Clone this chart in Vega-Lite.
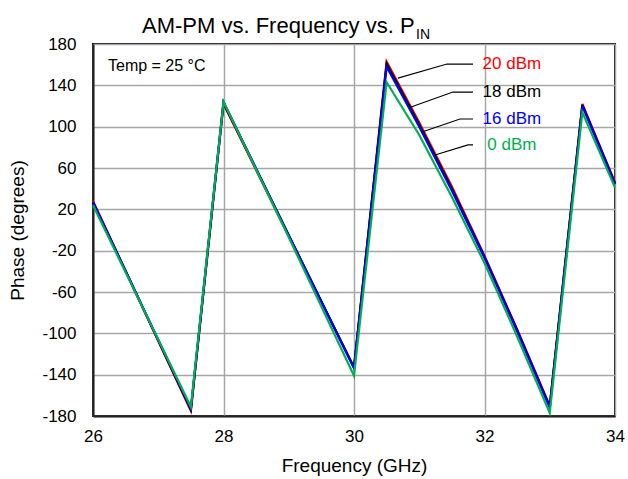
{
  "$schema": "https://vega.github.io/schema/vega-lite/v6.json",
  "width": 522,
  "height": 372,
  "autosize": "none",
  "padding": {"left": 93, "top": 44, "right": 13, "bottom": 63},
  "background": "white",
  "config": {
    "font": "Liberation Sans",
    "view": {"stroke": "#111111", "strokeWidth": 2},
    "axis": {
      "labelFont": "Liberation Sans",
      "titleFont": "Liberation Sans",
      "labelColor": "black",
      "titleColor": "black",
      "titleFontWeight": "normal",
      "gridColor": "#a6a6a6",
      "gridWidth": 1.5,
      "gridOpacity": 1,
      "domainColor": "#222222",
      "domainWidth": 2,
      "ticks": false,
      "labelFlush": false,
      "labelOverlap": false
    }
  },
  "datasets": {
    "curves": [
      {"series": "20 dBm", "f": 26, "v": 28}, {"series": "20 dBm", "f": 27.5, "v": -175}, {"series": "20 dBm", "f": 28, "v": 122}, {"series": "20 dBm", "f": 29, "v": -6}, {"series": "20 dBm", "f": 30, "v": -133}, {"series": "20 dBm", "f": 30.5, "v": 163}, {"series": "20 dBm", "f": 31, "v": 104}, {"series": "20 dBm", "f": 31.5, "v": 42}, {"series": "20 dBm", "f": 32, "v": -25}, {"series": "20 dBm", "f": 32.5, "v": -96}, {"series": "20 dBm", "f": 33, "v": -170}, {"series": "20 dBm", "f": 33.5, "v": 122}, {"series": "20 dBm", "f": 34, "v": 46},
      {"series": "18 dBm", "f": 26, "v": 27}, {"series": "18 dBm", "f": 27.5, "v": -174}, {"series": "18 dBm", "f": 28, "v": 123}, {"series": "18 dBm", "f": 29, "v": -5}, {"series": "18 dBm", "f": 30, "v": -133}, {"series": "18 dBm", "f": 30.5, "v": 161}, {"series": "18 dBm", "f": 31, "v": 102}, {"series": "18 dBm", "f": 31.5, "v": 40}, {"series": "18 dBm", "f": 32, "v": -26}, {"series": "18 dBm", "f": 32.5, "v": -97}, {"series": "18 dBm", "f": 33, "v": -171}, {"series": "18 dBm", "f": 33.5, "v": 121}, {"series": "18 dBm", "f": 34, "v": 45},
      {"series": "16 dBm", "f": 26, "v": 27}, {"series": "16 dBm", "f": 27.5, "v": -173}, {"series": "16 dBm", "f": 28, "v": 124}, {"series": "16 dBm", "f": 29, "v": -5}, {"series": "16 dBm", "f": 30, "v": -134}, {"series": "16 dBm", "f": 30.5, "v": 158}, {"series": "16 dBm", "f": 31, "v": 100}, {"series": "16 dBm", "f": 31.5, "v": 38}, {"series": "16 dBm", "f": 32, "v": -27}, {"series": "16 dBm", "f": 32.5, "v": -98}, {"series": "16 dBm", "f": 33, "v": -172}, {"series": "16 dBm", "f": 33.5, "v": 120}, {"series": "16 dBm", "f": 34, "v": 44},
      {"series": "0 dBm", "f": 26, "v": 24}, {"series": "0 dBm", "f": 27.5, "v": -171}, {"series": "0 dBm", "f": 28, "v": 124}, {"series": "0 dBm", "f": 29, "v": -7}, {"series": "0 dBm", "f": 30, "v": -141}, {"series": "0 dBm", "f": 30.5, "v": 143}, {"series": "0 dBm", "f": 31, "v": 92}, {"series": "0 dBm", "f": 31.5, "v": 32}, {"series": "0 dBm", "f": 32, "v": -32}, {"series": "0 dBm", "f": 32.5, "v": -103}, {"series": "0 dBm", "f": 33, "v": -177}, {"series": "0 dBm", "f": 33.5, "v": 114}, {"series": "0 dBm", "f": 34, "v": 41}
    ],
    "leaders": [
      {"id": "20 dBm", "k": 1, "f": 30.674, "v": 147}, {"id": "20 dBm", "k": 2, "f": 31.425, "v": 160.6}, {"id": "20 dBm", "k": 3, "f": 31.824, "v": 160.6},
      {"id": "18 dBm", "k": 1, "f": 30.874, "v": 119}, {"id": "18 dBm", "k": 2, "f": 31.517, "v": 133.5}, {"id": "18 dBm", "k": 3, "f": 31.824, "v": 133.5},
      {"id": "16 dBm", "k": 1, "f": 31.042, "v": 94.8}, {"id": "16 dBm", "k": 2, "f": 31.625, "v": 107.4}, {"id": "16 dBm", "k": 3, "f": 31.824, "v": 107.4},
      {"id": "0 dBm", "k": 1, "f": 31.241, "v": 72.6}, {"id": "0 dBm", "k": 2, "f": 31.747, "v": 82.3}, {"id": "0 dBm", "k": 3, "f": 31.824, "v": 82.3}
    ],
    "labels": [
      {"series": "20 dBm", "f": 32.42, "v": 160.6},
      {"series": "18 dBm", "f": 32.42, "v": 133.5},
      {"series": "16 dBm", "f": 32.42, "v": 107.4},
      {"series": "0 dBm", "f": 32.42, "v": 82.3}
    ],
    "notes": [
      {"text": "Temp = 25 °C", "f": 26.23, "v": 158.7}
    ],
    "titles": [
      {"text": "AM-PM vs. Frequency vs. P", "f": 26.751, "v": 191.1},
      {"text": "IN", "f": 30.95, "v": 184.8}
    ]
  },
  "layer": [
    {
      "data": {"name": "curves"},
      "transform": [{"filter": "datum.series === '20 dBm'"}],
      "mark": {"type": "line", "strokeWidth": 2.2},
      "encoding": {
        "x": {"field": "f", "type": "quantitative", "scale": {"domain": [26, 34], "nice": false}, "axis": {"values": [26, 28, 30, 32, 34], "format": "d", "title": "Frequency (GHz)", "labelFontSize": 17, "titleFontSize": 19, "labelPadding": 12, "titlePadding": 12}},
        "y": {"field": "v", "type": "quantitative", "scale": {"domain": [-180, 180], "nice": false}, "axis": {"values": [-180, -140, -100, -60, -20, 20, 60, 100, 140, 180], "labelExpr": "'' + datum.value", "title": "Phase (degrees)", "labelFontSize": 17, "titleFontSize": 19, "labelPadding": 17, "titlePadding": 14}},
        "order": {"field": "f", "type": "quantitative"},
        "color": {"field": "series", "type": "nominal", "scale": {"domain": ["20 dBm", "18 dBm", "16 dBm", "0 dBm"], "range": ["#ff0000", "#000000", "#0000ff", "#00b050"]}, "legend": null}
      }
    },
    {
      "data": {"name": "curves"},
      "transform": [{"filter": "datum.series === '18 dBm'"}],
      "mark": {"type": "line", "strokeWidth": 2.2},
      "encoding": {
        "x": {"field": "f", "type": "quantitative"},
        "y": {"field": "v", "type": "quantitative"},
        "order": {"field": "f", "type": "quantitative"},
        "color": {"field": "series", "type": "nominal", "legend": null}
      }
    },
    {
      "data": {"name": "curves"},
      "transform": [{"filter": "datum.series === '16 dBm'"}],
      "mark": {"type": "line", "strokeWidth": 2.2},
      "encoding": {
        "x": {"field": "f", "type": "quantitative"},
        "y": {"field": "v", "type": "quantitative"},
        "order": {"field": "f", "type": "quantitative"},
        "color": {"field": "series", "type": "nominal", "legend": null}
      }
    },
    {
      "data": {"name": "curves"},
      "transform": [{"filter": "datum.series === '0 dBm'"}],
      "mark": {"type": "line", "strokeWidth": 2.2},
      "encoding": {
        "x": {"field": "f", "type": "quantitative"},
        "y": {"field": "v", "type": "quantitative"},
        "order": {"field": "f", "type": "quantitative"},
        "color": {"field": "series", "type": "nominal", "legend": null}
      }
    },
    {
      "data": {"name": "leaders"},
      "mark": {"type": "line", "color": "black", "strokeWidth": 1.2},
      "encoding": {
        "x": {"field": "f", "type": "quantitative"},
        "y": {"field": "v", "type": "quantitative"},
        "detail": {"field": "id", "type": "nominal"},
        "order": {"field": "k", "type": "quantitative"}
      }
    },
    {
      "data": {"name": "labels"},
      "mark": {"type": "text", "align": "center", "baseline": "middle", "fontSize": 17, "font": "Liberation Sans"},
      "encoding": {
        "x": {"field": "f", "type": "quantitative"},
        "y": {"field": "v", "type": "quantitative"},
        "text": {"field": "series", "type": "nominal"},
        "color": {"field": "series", "type": "nominal", "legend": null}
      }
    },
    {
      "data": {"name": "notes"},
      "mark": {"type": "text", "align": "left", "baseline": "middle", "fontSize": 16, "font": "Liberation Sans", "color": "black"},
      "encoding": {
        "x": {"field": "f", "type": "quantitative"},
        "y": {"field": "v", "type": "quantitative"},
        "text": {"field": "text", "type": "nominal"}
      }
    },
    {
      "data": {"name": "titles"},
      "mark": {"type": "text", "align": "left", "baseline": "alphabetic", "font": "Liberation Sans", "color": "black"},
      "encoding": {
        "x": {"field": "f", "type": "quantitative"},
        "y": {"field": "v", "type": "quantitative"},
        "text": {"field": "text", "type": "nominal"},
        "size": {"field": "text", "type": "nominal", "scale": {"domain": ["AM-PM vs. Frequency vs. P", "IN"], "range": [22, 14]}, "legend": null}
      }
    }
  ]
}
